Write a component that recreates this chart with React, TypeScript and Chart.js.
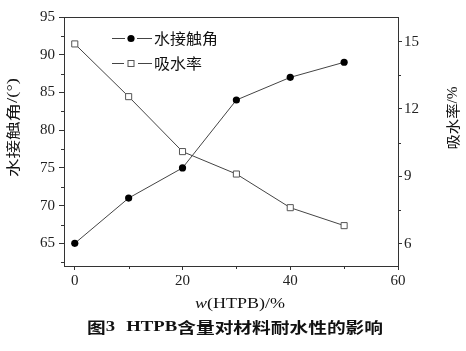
import React, { useEffect, useRef } from 'react';
import { Chart, registerables } from 'chart.js';

Chart.register(...registerables);

// ---- data ----
const xValues = [0, 10, 20, 30, 40, 50];
const contactAngle = [65, 71, 75, 84, 87, 89];
const waterAbsorption = [14.9, 12.55, 10.1, 9.1, 7.6, 6.8];
const xTicks = [0, 20, 40, 60];
const xMinorTicks = [10, 30, 50];
const leftTicks = [65, 70, 75, 80, 85, 90, 95];
const leftMinorTicks = [62.5, 67.5, 72.5, 77.5, 82.5, 87.5, 92.5];
const rightTicks = [6, 9, 12, 15];
const rightMinorTicks = [7.5, 10.5, 13.5];
const seriesNames = ['水接触角', '吸水率'];
const leftTitle = ['水接触角', '/(°)'];
const rightTitle = ['吸水率', '/%'];
const xTitle = ['w', '(HTPB)/%'];
const caption = ['图', '3', 'HTPB', '含量对材料耐水性的影响'];

const SERIF = '"Liberation Serif", "Times New Roman", serif';
const CJK = '"Noto Sans CJK SC", sans-serif';
const LINE = '#444';
const AXIS = '#333';

type Run = { t: string; font: string; gap?: number };

function drawRuns(ctx: CanvasRenderingContext2D, runs: Run[], cx: number, cy: number, targetW: number, rotate = 0) {
  ctx.save();
  ctx.translate(cx, cy);
  if (rotate) ctx.rotate(rotate);
  const widths = runs.map((r) => {
    ctx.font = r.font;
    return ctx.measureText(r.t).width;
  });
  const total = widths.reduce((a, b) => a + b, 0) + runs.reduce((a, r) => a + (r.gap || 0), 0);
  ctx.scale(targetW / total, 1);
  ctx.textBaseline = 'middle';
  ctx.textAlign = 'left';
  ctx.fillStyle = '#111';
  let x = -total / 2;
  runs.forEach((r, i) => {
    x += r.gap || 0;
    ctx.font = r.font;
    ctx.fillText(r.t, x, 0);
    x += widths[i];
  });
  ctx.restore();
}

const decorPlugin = {
  id: 'decor',
  afterDraw(chart: any) {
    const ctx: CanvasRenderingContext2D = chart.ctx;
    const a = chart.chartArea;
    const sx = chart.scales.x;
    const sy = chart.scales.y;
    const sy2 = chart.scales.y2;
    ctx.save();
    // frame
    ctx.strokeStyle = AXIS;
    ctx.lineWidth = 1;
    ctx.strokeRect(Math.round(a.left) + 0.5, Math.round(a.top) + 0.5, Math.round(a.right - a.left), Math.round(a.bottom - a.top));
    // minor ticks
    ctx.beginPath();
    leftMinorTicks.forEach((v) => {
      const y = Math.round(sy.getPixelForValue(v)) + 0.5;
      ctx.moveTo(a.left - 3, y);
      ctx.lineTo(a.left, y);
    });
    rightMinorTicks.forEach((v) => {
      const y = Math.round(sy2.getPixelForValue(v)) + 0.5;
      ctx.moveTo(a.right, y);
      ctx.lineTo(a.right + 3, y);
    });
    xMinorTicks.forEach((v) => {
      const x = Math.round(sx.getPixelForValue(v)) + 0.5;
      ctx.moveTo(x, a.bottom);
      ctx.lineTo(x, a.bottom + 3);
    });
    ctx.stroke();

    // legend
    const lx0 = 112;
    ctx.strokeStyle = LINE;
    ctx.lineWidth = 1;
    ctx.beginPath();
    ctx.moveTo(lx0, 38.5); ctx.lineTo(125, 38.5);
    ctx.moveTo(137, 38.5); ctx.lineTo(152, 38.5);
    ctx.moveTo(lx0, 63.5); ctx.lineTo(124, 63.5);
    ctx.moveTo(138, 63.5); ctx.lineTo(152, 63.5);
    ctx.stroke();
    ctx.fillStyle = '#000';
    ctx.beginPath();
    ctx.arc(131, 38.5, 3.6, 0, Math.PI * 2);
    ctx.fill();
    ctx.fillStyle = '#fff';
    ctx.strokeStyle = '#555';
    ctx.fillRect(128, 60.5, 6, 6);
    ctx.strokeRect(128, 60.5, 6, 6);
    drawRuns(ctx, [{ t: seriesNames[0], font: `15px ${CJK}` }], 186, 38.5, 64);
    drawRuns(ctx, [{ t: seriesNames[1], font: `15px ${CJK}` }], 178, 63.5, 48);

    // axis titles
    drawRuns(ctx, [
      { t: leftTitle[0], font: `14px ${CJK}` },
      { t: leftTitle[1], font: `14px ${SERIF}` },
    ], 13, 127.5, 99, -Math.PI / 2);
    drawRuns(ctx, [
      { t: rightTitle[0], font: `14px ${CJK}` },
      { t: rightTitle[1], font: `14px ${SERIF}` },
    ], 453, 118, 63, -Math.PI / 2);
    drawRuns(ctx, [
      { t: xTitle[0], font: `italic 14px ${SERIF}` },
      { t: xTitle[1], font: `14px ${SERIF}` },
    ], 240, 304, 90);

    // caption
    drawRuns(ctx, [
      { t: caption[0], font: `bold 15px ${CJK}` },
      { t: caption[1], font: `bold 15px ${SERIF}` },
      { t: caption[2], font: `bold 15px ${SERIF}`, gap: 9 },
      { t: caption[3], font: `bold 15px ${CJK}` },
    ], 235, 327, 296);
    ctx.restore();
  },
};

const tickFont = { family: SERIF, size: 15 };

export default function App() {
  const ref = useRef<HTMLCanvasElement | null>(null);
  useEffect(() => {
    if (!ref.current) return;
    const chart = new Chart(ref.current, {
      type: 'line',
      data: {
        datasets: [
          {
            label: seriesNames[0],
            data: xValues.map((x, i) => ({ x, y: contactAngle[i] })),
            yAxisID: 'y',
            borderColor: LINE,
            borderWidth: 1,
            pointStyle: 'circle',
            pointRadius: 3.6,
            pointBackgroundColor: '#000',
            pointBorderColor: '#000',
            pointBorderWidth: 0,
            tension: 0,
          },
          {
            label: seriesNames[1],
            data: xValues.map((x, i) => ({ x, y: waterAbsorption[i] })),
            yAxisID: 'y2',
            borderColor: LINE,
            borderWidth: 1,
            pointStyle: 'rect',
            pointRadius: 4.3,
            pointBackgroundColor: '#fff',
            pointBorderColor: '#555',
            pointBorderWidth: 1,
            tension: 0,
          },
        ],
      },
      options: {
        animation: false,
        responsive: false,
        maintainAspectRatio: false,
        layout: { padding: { top: 17, left: 0, right: 0, bottom: 0 } },
        plugins: { legend: { display: false }, tooltip: { enabled: false } },
        scales: {
          x: {
            type: 'linear',
            min: -2,
            max: 60,
            afterBuildTicks: (s: any) => { s.ticks = xTicks.map((v) => ({ value: v })); },
            afterFit: (s: any) => { s.height = 85; },
            grid: { drawOnChartArea: false, tickLength: 4, color: AXIS },
            border: { color: AXIS },
            ticks: { font: tickFont, color: '#222', padding: 2, maxRotation: 0, autoSkip: false },
          },
          y: {
            type: 'linear',
            position: 'left',
            min: 62,
            max: 95,
            afterBuildTicks: (s: any) => { s.ticks = leftTicks.map((v) => ({ value: v })); },
            afterFit: (s: any) => { s.width = 64; },
            grid: { drawOnChartArea: false, tickLength: 5, color: AXIS },
            border: { color: AXIS },
            ticks: { font: tickFont, color: '#222', padding: 4, autoSkip: false },
          },
          y2: {
            type: 'linear',
            position: 'right',
            min: 5,
            max: 16.1,
            afterBuildTicks: (s: any) => { s.ticks = rightTicks.map((v) => ({ value: v })); },
            afterFit: (s: any) => { s.width = 68; },
            grid: { drawOnChartArea: false, tickLength: 4, color: AXIS },
            border: { color: AXIS },
            ticks: { font: tickFont, color: '#222', padding: 2, autoSkip: false },
          },
        },
      },
      plugins: [decorPlugin],
    } as any);
    return () => chart.destroy();
  }, []);
  return (
    <div style={{ position: 'absolute', left: 0, top: 0, width: 466, height: 351, background: '#fff' }}>
      <canvas ref={ref} width={466} height={351} />
    </div>
  );
}
